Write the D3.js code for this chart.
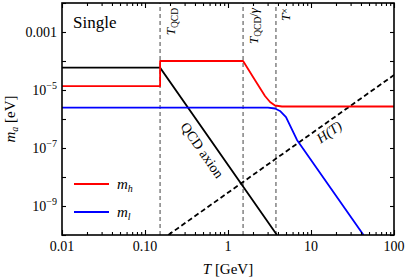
<!DOCTYPE html>
<html>
<head>
<meta charset="utf-8">
<script src="https://cdn.jsdelivr.net/npm/d3@7"></script>
<style>
    html, body { margin: 0; padding: 0; background: #fff; }
    svg { display: block; font-family: 'Liberation Serif', 'DejaVu Serif', serif; }
</style>
</head>
<body>
<div id="chart"></div>
<script>
'use strict';

// Values: temperature T [GeV], mass m [eV].
var xTicks      = [0.01, 0.1, 1, 10, 100],
    xTickLabels = ['0.01', '0.10', '1', '10', '100'],
    yTicks      = [1e-10, 1e-9, 1e-8, 1e-7, 1e-6, 1e-5, 1e-4, 1e-3, 1e-2],
    yLabelled   = [1e-9, 1e-7, 1e-5, 1e-3];

var tQCD      = 0.152,
    tQCDgamma = 1.52,
    tCross    = 3.78;

var qcdAxion = [[0.01, 5.9e-5], [0.152, 5.9e-5], [3.89, 1e-10]];
var massHeavy = [
    [0.01, 1.37e-5], [0.152, 1.37e-5], [0.152, 1e-4], [1.52, 1e-4],
    [2.11, 2.21e-5], [2.79, 6.2e-6], [3.21, 3.86e-6], [3.68, 2.92e-6],
    [4.47, 2.7e-6], [100, 2.7e-6]
];
var massLight = [
    [0.01, 2.45e-6], [3.03, 2.45e-6], [3.68, 2.3e-6], [4.23, 1.89e-6],
    [5.0, 1.17e-6], [6.78, 1.89e-7], [42.9, 1e-10]
];
var hubble = [[0.191, 1e-10], [100, 3.29e-5]];

var width  = 407,
    height = 278,
    margin = {top: 3, right: 13, bottom: 43, left: 62};

var svg = d3.select('#chart').append('svg')
    .attr('width', width)
    .attr('height', height);

var x = d3.scaleLog()
    .domain([0.01, 100])
    .range([margin.left, width - margin.right]);

var y = d3.scaleLog()
    .domain([1e-10, 1e-2])
    .range([height - margin.bottom, margin.top]);

svg.append('defs').append('clipPath')
    .attr('id', 'plot-clip')
    .append('rect')
    .attr('x', x.range()[0])
    .attr('y', y.range()[1])
    .attr('width', x.range()[1] - x.range()[0])
    .attr('height', y.range()[0] - y.range()[1]);

var plot = svg.append('g').attr('clip-path', 'url(#plot-clip)');

var line = d3.line()
    .x(function (d) { return x(d[0]); })
    .y(function (d) { return y(d[1]); });

// Vertical temperature markers
[tQCD, tQCDgamma, tCross].forEach(function (t) {
    plot.append('line')
        .attr('x1', x(t)).attr('x2', x(t))
        .attr('y1', y.range()[0]).attr('y2', y.range()[1])
        .attr('stroke', '#8a8a8a')
        .attr('stroke-width', 1.6)
        .attr('stroke-dasharray', '4,3');
});

plot.append('path')
    .attr('d', line(hubble))
    .attr('fill', 'none')
    .attr('stroke', '#000')
    .attr('stroke-width', 1.8)
    .attr('stroke-dasharray', '5,3');

plot.append('path')
    .attr('d', line(qcdAxion))
    .attr('fill', 'none')
    .attr('stroke', '#000')
    .attr('stroke-width', 1.8);

plot.append('path')
    .attr('d', line(massLight))
    .attr('fill', 'none')
    .attr('stroke', '#0000ff')
    .attr('stroke-width', 1.8)
    .attr('stroke-linejoin', 'round');

plot.append('path')
    .attr('d', line(massHeavy))
    .attr('fill', 'none')
    .attr('stroke', '#ff0000')
    .attr('stroke-width', 1.8)
    .attr('stroke-linejoin', 'round');

// Axes: ticks point inward on all four sides
var minorX = [];
xTicks.slice(0, -1).forEach(function (t) {
    for (var k = 2; k < 10; k++) { minorX.push(t * k); }
});

function addAxis(axis, transform) {
    var g = svg.append('g').attr('transform', transform).call(axis);
    g.select('.domain').remove();
    g.selectAll('.tick line').attr('stroke', '#000').attr('stroke-width', 1.1);
    return g;
}

var xb = y.range()[0], xt = y.range()[1];

addAxis(d3.axisBottom(x).tickValues(xTicks).tickSize(-5).tickFormat(''), 'translate(0,' + xb + ')');
addAxis(d3.axisBottom(x).tickValues(minorX).tickSize(-3).tickFormat(''), 'translate(0,' + xb + ')');
addAxis(d3.axisTop(x).tickValues(xTicks).tickSize(-5).tickFormat(''), 'translate(0,' + xt + ')');
addAxis(d3.axisTop(x).tickValues(minorX).tickSize(-3).tickFormat(''), 'translate(0,' + xt + ')');
addAxis(d3.axisLeft(y).tickValues(yTicks).tickSize(-4).tickFormat(''), 'translate(' + x.range()[0] + ',0)');
addAxis(d3.axisRight(y).tickValues(yTicks).tickSize(-4).tickFormat(''), 'translate(' + x.range()[1] + ',0)');

svg.append('rect')
    .attr('x', x.range()[0])
    .attr('y', y.range()[1])
    .attr('width', x.range()[1] - x.range()[0])
    .attr('height', y.range()[0] - y.range()[1])
    .attr('fill', 'none')
    .attr('stroke', '#000')
    .attr('stroke-width', 1.6);

// Tick labels
svg.selectAll('.xlabel')
    .data(xTicks)
    .enter().append('text')
    .attr('x', function (d) { return x(d); })
    .attr('y', xb + 16)
    .attr('text-anchor', 'middle')
    .style('font-size', '14px')
    .text(function (d, i) { return xTickLabels[i]; });

yLabelled.forEach(function (v) {
    var t = svg.append('text')
        .attr('x', x.range()[0] - 5)
        .attr('y', y(v) + 5)
        .attr('text-anchor', 'end')
        .style('font-size', '14px');
    var exp = Math.round(Math.log10(v));
    if (exp === -3) {
        t.text('0.001');
    } else {
        t.append('tspan').text('10');
        t.append('tspan')
            .attr('dy', -6)
            .style('font-size', '10px')
            .text('\u2212' + (-exp));
    }
});

// Axis titles
var xTitle = svg.append('text')
    .attr('x', (x.range()[0] + x.range()[1]) / 2)
    .attr('y', 274)
    .attr('text-anchor', 'middle')
    .style('font-size', '15px');
xTitle.append('tspan').style('font-style', 'italic').text('T');
xTitle.append('tspan').text(' [GeV]');

var yTitle = svg.append('text')
    .attr('transform', 'translate(15,' + ((y.range()[0] + y.range()[1]) / 2) + ') rotate(-90)')
    .attr('text-anchor', 'middle')
    .style('font-size', '15px');
yTitle.append('tspan').style('font-style', 'italic').text('m');
yTitle.append('tspan').attr('dy', 3).style('font-size', '10px').style('font-style', 'italic').text('a');
yTitle.append('tspan').attr('dy', -3).text(' [eV]');

svg.append('text')
    .attr('x', 73)
    .attr('y', 28)
    .style('font-size', '17px')
    .text('Single');

// Marker labels, rotated, reading upward
function markerLabel(t, offset, build) {
    var g = svg.append('text')
        .attr('transform', 'translate(' + (x(t) + offset) + ',8) rotate(-90)')
        .attr('text-anchor', 'end')
        .style('font-size', '13px');
    build(g);
}

markerLabel(tQCD, 15, function (g) {
    g.append('tspan').style('font-style', 'italic').text('T');
    g.append('tspan').attr('dy', 3).style('font-size', '9.5px').text('QCD');
});
markerLabel(tQCDgamma, 15, function (g) {
    g.append('tspan').style('font-style', 'italic').text('T');
    g.append('tspan').attr('dy', 3).style('font-size', '9.5px').text('QCD');
    g.append('tspan').attr('dy', -3).text('/');
    g.append('tspan').style('font-style', 'italic').text('\u03b3');
});
markerLabel(tCross, 14, function (g) {
    g.append('tspan').style('font-style', 'italic').text('T');
    g.append('tspan').attr('dy', -2).style('font-size', '10px').text('\u00d7');
});

// Labels along the lines
function slopeAngle(pts) {
    var a = pts[pts.length - 2], b = pts[pts.length - 1];
    return Math.atan2(y(b[1]) - y(a[1]), x(b[0]) - x(a[0])) * 180 / Math.PI;
}

svg.append('text')
    .attr('transform', 'translate(' + x(0.49) + ',' + y(8.5e-8) + ') rotate(' + slopeAngle(qcdAxion) + ')')
    .attr('text-anchor', 'middle')
    .attr('dy', '0.35em')
    .style('font-size', '14px')
    .text('QCD axion');

svg.append('text')
    .attr('transform', 'translate(' + x(16.5) + ',' + y(3.6e-7) + ') rotate(' + slopeAngle(hubble) + ')')
    .attr('text-anchor', 'middle')
    .attr('dy', '0.35em')
    .style('font-size', '14px')
    .style('font-style', 'italic')
    .text('H(T)');

// Legend
var legend = [
    {color: '#ff0000', name: 'h', y: 184},
    {color: '#0000ff', name: 'l', y: 212}
];
legend.forEach(function (d) {
    svg.append('line')
        .attr('x1', 74).attr('x2', 109)
        .attr('y1', d.y).attr('y2', d.y)
        .attr('stroke', d.color)
        .attr('stroke-width', 1.8);
    var t = svg.append('text')
        .attr('x', 117)
        .attr('y', d.y + 5)
        .style('font-size', '15px')
        .style('font-style', 'italic');
    t.append('tspan').text('m');
    t.append('tspan').attr('dy', 3).style('font-size', '10px').text(d.name);
});
</script>
</body>
</html>
